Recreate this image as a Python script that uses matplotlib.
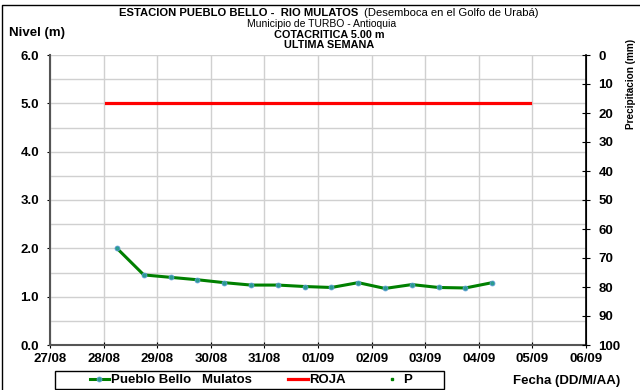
import numpy as np
import matplotlib
matplotlib.use("Agg")
import matplotlib.pyplot as plt
import matplotlib.dates as mdates
from matplotlib.lines import Line2D
from matplotlib.patches import Rectangle
from datetime import datetime, timedelta

plt.rcParams['font.family'] = ['Liberation Sans', 'DejaVu Sans']

# datos
inicio = datetime(2020, 8, 28, 6)
fechas = [inicio + timedelta(hours=12 * i) for i in range(15)]
nivel = [2.00, 1.45, 1.40, 1.35, 1.29, 1.24, 1.24, 1.21, 1.19, 1.29,
         1.17, 1.25, 1.19, 1.18, 1.29]
roja_x = [datetime(2020, 8, 28, 1), datetime(2020, 9, 4, 23)]
roja_y = [5.0, 5.0]
ticks_x = [datetime(2020, 8, 27) + timedelta(days=d) for d in range(11)]
ticks_y = [0.0, 1.0, 2.0, 3.0, 4.0, 5.0, 6.0]
ticks_p = list(range(0, 101, 10))

fig = plt.figure(figsize=(6.4, 3.9), dpi=100)
ax = fig.add_axes([50/640, 1 - 345/390, 536/640, 290/390])

ax.plot(fechas, nivel, color="#008000", lw=2.2, marker="o", ms=3.5,
        mfc="#2a9d8f", mec="#5b9bd5", mew=0.6, label="Pueblo Bello   Mulatos", zorder=3)
ax.plot(roja_x, roja_y, color="red", lw=2.3, label="ROJA", zorder=3)

ax.set_xlim(ticks_x[0], ticks_x[-1])
ax.set_ylim(0, 6)
ax.set_xticks(ticks_x)
ax.xaxis.set_major_formatter(mdates.DateFormatter("%d/%m"))
ax.set_yticks(ticks_y)
ax.set_yticks(np.arange(0, 6.01, 0.5), minor=True)
ax.yaxis.set_major_formatter(plt.FormatStrFormatter("%.1f"))
ax.grid(True, which="both", axis="y", color="#d0d0d0", lw=1)
ax.grid(True, which="major", axis="x", color="#d0d0d0", lw=1)
ax.set_axisbelow(True)
ax.tick_params(axis="y", which="minor", length=0)
ax.tick_params(axis="y", which="major", length=2.5, direction="out", labelsize=9.5, pad=5.5)
ax.tick_params(axis="x", length=4, direction="inout", labelsize=9.5, pad=4)
for lbl in ax.get_xticklabels() + ax.get_yticklabels():
    lbl.set_fontweight("bold")
ax.spines["top"].set_visible(False)
ax.spines["left"].set_color("#555555")
ax.spines["bottom"].set_color("#555555")
ax.spines["left"].set_linewidth(1.5)
ax.spines["bottom"].set_linewidth(1.5)

ax2 = ax.twinx()
ax2.set_ylim(100, 0)
ax2.set_yticks(ticks_p)
ax2.tick_params(axis="y", length=6, direction="inout", labelsize=9.5, pad=6)
for lbl in ax2.get_yticklabels():
    lbl.set_fontweight("bold")
ax2.spines["top"].set_visible(False)
ax2.spines["left"].set_visible(False)
ax2.spines["bottom"].set_visible(False)
ax2.spines["right"].set_linewidth(1.2)

# textos
fig.text(358/640, 1 - 13/390, "ESTACION PUEBLO BELLO -  RIO MULATOS", ha="right", va="center",
         fontsize=8.1, fontweight="bold")
fig.text(364/640, 1 - 13/390, "(Desemboca en el Golfo de Urabá)", ha="left", va="center", fontsize=8.1)
fig.text(322/640, 1 - 24/390, "Municipio de TURBO - Antioquia", ha="center", va="center", fontsize=7.5)
fig.text(329/640, 1 - 35/390, "COTACRITICA 5.00 m", ha="center", va="center", fontsize=7.8, fontweight="bold")
fig.text(329/640, 1 - 45.5/390, "ULTIMA SEMANA", ha="center", va="center", fontsize=7.8, fontweight="bold")
fig.text(9/640, 1 - 33/390, "Nivel (m)", ha="left", va="center", fontsize=9.5, fontweight="bold")
fig.text(631/640, 1 - 84/390, "Precipitacion (mm)", ha="center", va="center", rotation=90,
         fontsize=7.2, fontweight="bold")
fig.text(620/640, 1 - 381/390, "Fecha (DD/M/AA)", ha="right", va="center", fontsize=9.5, fontweight="bold")

# marco (borde superior e izquierdo)
fig.add_artist(Line2D([2/640, 2/640, 1.0], [0.0, 1 - 5/390, 1 - 5/390],
                      transform=fig.transFigure, color="black", lw=1))

# leyenda
fig.patches.append(Rectangle((55/640, 1 - 389/390), 389/640, 18/390, transform=fig.transFigure,
                             fill=False, ec="black", lw=1))
p_handle = Line2D([], [], ls="none", marker="s", ms=2, color="#008000")
h1, l1 = ax.get_legend_handles_labels()
leg = fig.legend(h1 + [p_handle], l1 + ["P"], loc="center",
                 bbox_to_anchor=(251/640, 1 - 380/390), ncol=3,
                 fontsize=9.5, frameon=False, borderpad=0,
                 handlelength=1.5, handletextpad=0.15, columnspacing=2.7, borderaxespad=0)
for t in leg.get_texts():
    t.set_fontweight("bold")

fig.savefig("out.png", dpi=100)
